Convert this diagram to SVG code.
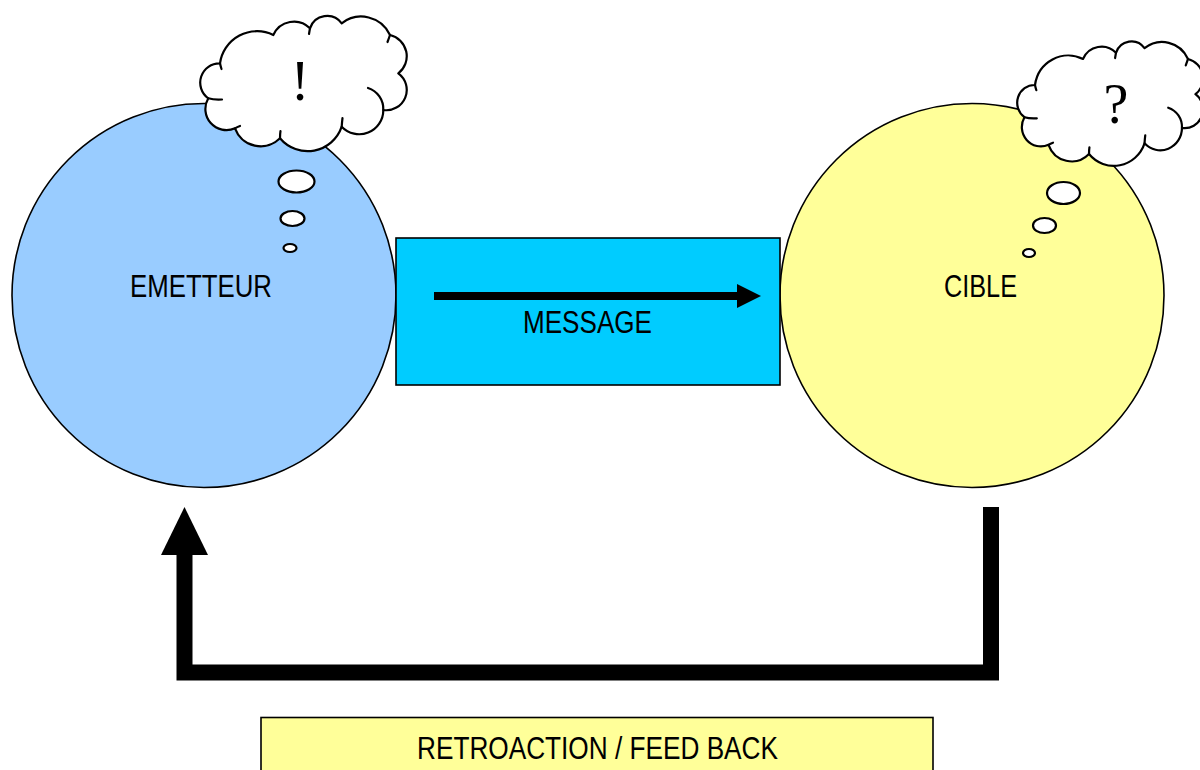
<svg xmlns="http://www.w3.org/2000/svg" xmlns:xlink="http://www.w3.org/1999/xlink" width="1200" height="770" viewBox="0 0 1200 770">
  <style>
    .label { font-family: "Liberation Sans", Arial, sans-serif; font-size: 31.5px; fill: #000; text-anchor: middle; }
    .mark { font-family: "Liberation Serif", "Times New Roman", serif; font-size: 56px; fill: #000; text-anchor: middle; }
    .outline { stroke: #000; stroke-width: 1.6; }
    .cloud { fill: #fff; stroke: #000; stroke-width: 2.2; stroke-linejoin: round; vector-effect: non-scaling-stroke; }
    .hook { fill: none; stroke: #000; stroke-width: 2.2; stroke-linecap: round; vector-effect: non-scaling-stroke; }
    .bubble { fill: #fff; stroke: #000; stroke-width: 2.2; }
    .thick { fill: none; stroke: #000; stroke-width: 16; stroke-linejoin: miter; stroke-linecap: butt; }
  </style>
  <defs>
    <!-- thought cloud outline, drawn clockwise from the upper-left notch -->
    <g id="thought-cloud">
      <path class="cloud" d="M 220 63.3 A 37.3 37.3 0 0 1 273.3 35 A 22.6 22.6 0 0 1 310 28.3 A 18 18 0 0 1 341.7 23.3 A 31.7 31.7 0 0 1 390 35 A 21.7 21.7 0 0 1 398.3 73.3 A 20.4 20.4 0 0 1 383.3 110 A 24.1 24.1 0 0 1 341.7 126.7 A 36 36 0 0 1 280 138.3 A 27.3 27.3 0 0 1 235 128.3 A 21.1 21.1 0 0 1 208.3 98.3 A 19.3 19.3 0 0 1 220 63.3 Z"/>
      <path class="hook" d="M 208.3 98.3 Q 214 100 222 99.5"/>
      <path class="hook" d="M 220 63.3 Q 220.5 66 221.5 69"/>
      <path class="hook" d="M 310 28.3 Q 309.5 31 309 34"/>
      <path class="hook" d="M 390 35 Q 389 38 387.5 42"/>
      <path class="hook" d="M 368 88 A 22 22 0 0 1 383.3 110"/>
      <path class="hook" d="M 341.7 126.7 Q 342 122 342.5 118"/>
      <path class="hook" d="M 280 138.3 Q 280 134 280.5 131"/>
      <path class="hook" d="M 235 128.3 Q 237 127 240 126"/>
    </g>
  </defs>

  <!-- sender -->
  <g id="emetteur">
    <circle class="outline" cx="204" cy="295.5" r="192" fill="#99CCFF"/>
    <text class="label" x="201" y="297" textLength="142" lengthAdjust="spacingAndGlyphs">EMETTEUR</text>
    <ellipse class="bubble" cx="296.5" cy="181.5" rx="18" ry="11"/>
    <ellipse class="bubble" cx="292.5" cy="218.5" rx="12" ry="7.5"/>
    <ellipse class="bubble" cx="290" cy="248" rx="6.5" ry="4"/>
    <use xlink:href="#thought-cloud"/>
    <text class="mark" x="300" y="100">!</text>
  </g>

  <!-- receiver -->
  <g id="cible">
    <circle class="outline" cx="972" cy="295.5" r="192" fill="#FFFF99"/>
    <text class="label" x="980.5" y="296.5" textLength="73" lengthAdjust="spacingAndGlyphs">CIBLE</text>
    <ellipse class="bubble" cx="1063.5" cy="193" rx="16.5" ry="11"/>
    <ellipse class="bubble" cx="1044.5" cy="225.5" rx="11.5" ry="7.5"/>
    <ellipse class="bubble" cx="1029" cy="253" rx="6" ry="4"/>
    <use xlink:href="#thought-cloud" transform="translate(1035 85) scale(0.9 0.92) translate(-220 -63.3)"/>
    <text class="mark" x="1116" y="123">?</text>
  </g>

  <!-- message channel -->
  <g id="message">
    <rect class="outline" x="396" y="238" width="384" height="147" fill="#00CCFF"/>
    <text class="label" x="587.5" y="333" textLength="129" lengthAdjust="spacingAndGlyphs">MESSAGE</text>
  </g>

  <!-- feedback caption -->
  <g id="retroaction">
    <rect class="outline" x="261" y="717.5" width="672" height="70" fill="#FFFF99"/>
    <text class="label" x="597.5" y="759" textLength="361" lengthAdjust="spacingAndGlyphs">RETROACTION / FEED BACK</text>
  </g>

  <!-- connectors -->
  <g id="connectors">
    <line x1="434" y1="296" x2="740" y2="296" stroke="#000" stroke-width="8"/>
    <polygon points="737,284 761,296 737,308" fill="#000"/>
    <polyline class="thick" points="991,507 991,672.5 184.5,672.5 184.5,553"/>
    <polygon points="161,555 184.5,507 208,555" fill="#000"/>
  </g>
</svg>
